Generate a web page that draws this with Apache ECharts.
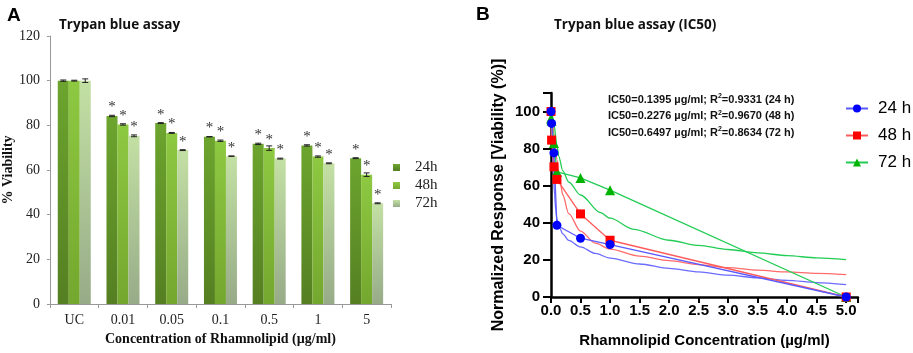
<!DOCTYPE html>
<html>
<head>
<meta charset="utf-8">
<script src="https://cdn.jsdelivr.net/npm/echarts@6/dist/echarts.min.js"></script>
<style>
  html, body { margin: 0; padding: 0; background: #fff; }
  #chart { width: 913px; height: 353px; }
</style>
</head>
<body>
<div id="chart"></div>
<script>
// Panel A: bar chart
const categories = ['UC', '0.01', '0.05', '0.1', '0.5', '1', '5'];
const via24 = [100, 84.2, 81, 74.9, 71.7, 71, 65.3];
const via48 = [100, 80.4, 76.6, 73.1, 69.8, 66, 57.9];
const via72 = [100, 75.3, 68.9, 66.2, 65.1, 63, 45.1];
const err24 = [0.3, 0.3, 0.2, 0.1, 0.3, 0.3, 0.2];
const err48 = [0.2, 0.3, 0.2, 0.3, 1.0, 0.3, 0.8];
const err72 = [0.8, 0.4, 0.2, 0.1, 0.2, 0.2, 0.2];
const stars24 = ['', '*', '*', '*', '*', '*', '*'];
const stars48 = ['', '*', '*', '*', '*', '*', '*'];
const stars72 = ['', '*', '*', '*', '*', '*', '*'];

// Panel B: IC50 plot
const concX = [0, 0.01, 0.05, 0.1, 0.5, 1, 5];
const resp24 = [100, 93.6, 77.7, 38.7, 31.7, 28.3, 0];
const resp48 = [100, 84.6, 70.2, 63.4, 44.8, 30.6, 0];
const resp72 = [96.2, 95, 83, 67.5, 64.2, 57.6, 0];
// fitted curves
const fit24 = [[0.004, 100], [0.02, 85], [0.04, 68], [0.06, 55], [0.08, 47], [0.1, 42], [0.15, 37], [0.2, 34], [0.3, 30.5], [0.5, 27], [0.75, 23.5], [1, 21], [1.5, 17.8], [2, 15.4], [2.5, 13.5], [3, 11.8], [3.5, 10.3], [4, 9], [4.5, 7.8], [5, 6.7]];
const fit48 = [[0.004, 100], [0.02, 96], [0.05, 88], [0.1, 74], [0.15, 63], [0.2, 55], [0.3, 45], [0.5, 35.5], [0.75, 29], [1, 25.8], [1.5, 22], [2, 19.6], [2.5, 17.5], [3, 15.8], [3.5, 14.5], [4, 13.5], [4.5, 12.7], [5, 12.1]];
const fit72 = [[0.004, 100], [0.02, 98], [0.05, 93], [0.1, 82], [0.13, 76], [0.2, 68], [0.3, 62], [0.5, 55], [0.84, 45.5], [1, 42.5], [1.4, 36.5], [2, 30.6], [2.5, 27.8], [3, 25.6], [3.5, 23.8], [4, 22.3], [4.5, 21.1], [5, 20.2]];
const xTicksB = [0, 0.5, 1, 1.5, 2, 2.5, 3, 3.5, 4, 4.5, 5];
const yTicksB = [0, 20, 40, 60, 80, 100];
const icLines = [
  ['IC50=0.1395 µg/ml; R', '2', '=0.9331 (24 h)'],
  ['IC50=0.2276 µg/ml; R', '2', '=0.9670 (48 h)'],
  ['IC50=0.6497 µg/ml; R', '2', '=0.8634 (72 h)']
];

const serif = '"Liberation Serif", "Times New Roman", serif';
const sans = '"Liberation Sans", Arial, sans-serif';
const titleFont = '"Open Sans", "Noto Sans", sans-serif';

function grad(top, bottom) {
  return new echarts.graphic.LinearGradient(0, 0, 0, 1, [
    {offset: 0, color: top},
    {offset: 1, color: bottom}
  ]);
}
const barColors = [grad('#6ca52e', '#557f22'), grad('#8ec942', '#74a72e'), grad('#c3e0a4', '#97ab88')];
const barWidth = 11;

function barSeries(name, vals, stars, color) {
  return {
    name: name,
    type: 'bar',
    xAxisIndex: 0,
    yAxisIndex: 0,
    barWidth: barWidth,
    barGap: '0%',
    itemStyle: {color: color},
    data: vals.map((v, i) => ({
      value: v,
      label: {
        show: stars[i] !== '',
        position: 'top',
        distance: 1,
        formatter: stars[i],
        fontFamily: serif,
        fontSize: 15,
        color: '#333'
      }
    }))
  };
}

function errSeries(vals, errs, offset) {
  return {
    type: 'custom',
    xAxisIndex: 0,
    yAxisIndex: 0,
    z: 5,
    silent: true,
    data: vals.map((v, i) => [i, v, errs[i]]),
    renderItem: function (params, api) {
      const ci = api.value(0), v = api.value(1), e = api.value(2);
      const hi = api.coord([ci, v + e]);
      const lo = api.coord([ci, v - e]);
      const x = hi[0] + offset;
      const st = {stroke: '#222', lineWidth: 1};
      return {
        type: 'group',
        children: [
          {type: 'line', shape: {x1: x, y1: hi[1], x2: x, y2: lo[1]}, style: st},
          {type: 'line', shape: {x1: x - 3, y1: hi[1], x2: x + 3, y2: hi[1]}, style: st},
          {type: 'line', shape: {x1: x - 3, y1: lo[1], x2: x + 3, y2: lo[1]}, style: st}
        ]
      };
    }
  };
}

function dataSeries(name, ys, symbol, size, mark, line) {
  return {
    name: name,
    type: 'line',
    xAxisIndex: 1,
    yAxisIndex: 1,
    symbol: symbol,
    symbolSize: size,
    clip: false,
    z: 4,
    itemStyle: {color: mark},
    lineStyle: {color: line, width: 1.3},
    data: concX.map((x, i) => [x, ys[i]])
  };
}

function fitSeries(pts, color) {
  return {
    type: 'line',
    xAxisIndex: 1,
    yAxisIndex: 1,
    showSymbol: false,
    smooth: 0.3,
    smoothMonotone: 'x',
    silent: true,
    z: 3,
    lineStyle: {color: color, width: 1.3},
    data: pts
  };
}

const chart = echarts.init(document.getElementById('chart'));

chart.setOption({
  animation: false,
  backgroundColor: '#fff',
  title: [
    {text: 'A', left: 2, top: 1, textStyle: {fontFamily: sans, fontSize: 19, fontWeight: 'bold', color: '#000'}},
    {text: 'Trypan blue assay', left: 54, top: 13, textStyle: {fontFamily: titleFont, fontSize: 13.5, fontWeight: 'bold', color: '#111'}},
    {text: 'B', left: 471, top: 0, textStyle: {fontFamily: sans, fontSize: 19, fontWeight: 'bold', color: '#000'}},
    {text: 'Trypan blue assay (IC50)', left: 549, top: 13, textStyle: {fontFamily: titleFont, fontSize: 13.5, fontWeight: 'bold', color: '#111'}}
  ],
  legend: [
    {
      data: ['24h', '48h', '72h'],
      orient: 'vertical',
      left: 388,
      top: 155,
      itemWidth: 7,
      itemHeight: 7,
      itemGap: 3,
      icon: 'rect',
      textStyle: {fontFamily: serif, fontSize: 15, color: '#222', padding: [0, 0, 0, 10]}
    },
    {
      data: ['24 h', '48 h', '72 h'],
      orient: 'vertical',
      left: 840,
      top: 95,
      itemWidth: 22,
      itemHeight: 10,
      itemGap: 10,
      textStyle: {fontFamily: sans, fontSize: 17, color: '#000', padding: [0, 0, 0, 5]}
    }
  ],
  grid: [
    {left: 45, top: 36, width: 346, height: 268},
    {left: 551, top: 93, width: 307, height: 204}
  ],
  xAxis: [
    {
      type: 'category',
      gridIndex: 0,
      data: categories,
      axisLine: {lineStyle: {color: '#999', width: 1}},
      axisTick: {show: true, length: 4, lineStyle: {color: '#999'}},
      axisLabel: {fontFamily: serif, fontSize: 14, color: '#222', margin: 9},
      name: 'Concentration of Rhamnolipid (µg/ml)',
      nameLocation: 'middle',
      nameGap: 27,
      nameTextStyle: {fontFamily: serif, fontSize: 14, fontWeight: 'bold', color: '#111'}
    },
    {
      type: 'value',
      gridIndex: 1,
      min: 0,
      max: 5.2,
      interval: 0.5,
      splitLine: {show: false},
      axisLine: {onZero: false, lineStyle: {color: '#000', width: 2.5}},
      axisTick: {show: true, length: 6, lineStyle: {color: '#000', width: 2}},
      axisLabel: {customValues: xTicksB, fontFamily: sans, fontSize: 15, fontWeight: 'bold', color: '#000', margin: 6, formatter: v => v.toFixed(1)},
      name: 'Rhamnolipid Concentration (µg/ml)',
      nameLocation: 'middle',
      nameGap: 36,
      nameTextStyle: {fontFamily: sans, fontSize: 15, fontWeight: 'bold', color: '#000'}
    }
  ],
  yAxis: [
    {
      type: 'value',
      gridIndex: 0,
      min: 0,
      max: 120,
      interval: 20,
      splitLine: {show: false},
      axisLine: {show: true, lineStyle: {color: '#999', width: 1}},
      axisTick: {show: true, length: 3, lineStyle: {color: '#999'}},
      axisLabel: {fontFamily: serif, fontSize: 14, color: '#222', margin: 10},
      name: '% Viability',
      nameLocation: 'middle',
      nameGap: 31,
      nameTextStyle: {fontFamily: serif, fontSize: 14, fontWeight: 'bold', color: '#111'}
    },
    {
      type: 'value',
      gridIndex: 1,
      min: 0,
      max: 110,
      interval: 20,
      splitLine: {show: false},
      axisLine: {onZero: false, lineStyle: {color: '#000', width: 2.5}},
      axisTick: {show: true, length: 8, lineStyle: {color: '#000', width: 2}},
      axisLabel: {customValues: yTicksB, fontFamily: sans, fontSize: 15, fontWeight: 'bold', color: '#000', margin: 11},
      name: 'Normalized Response [Viability (%)]',
      nameLocation: 'middle',
      nameGap: 44,
      nameTextStyle: {fontFamily: sans, fontSize: 16, fontWeight: 'bold', color: '#000'}
    }
  ],
  graphic: icLines.map((parts, i) => ({
    type: 'text',
    left: 608,
    top: 93 + i * 16.5,
    style: {
      text: '{a|' + parts[0] + '}{s|' + parts[1] + '}{a|' + parts[2] + '}',
      rich: {
        a: {fontFamily: sans, fontSize: 11, fontWeight: 'bold', fill: '#111', color: '#111'},
        s: {fontFamily: sans, fontSize: 7, fontWeight: 'bold', fill: '#111', color: '#111', verticalAlign: 'top', padding: [0, 0, 6, 0]}
      }
    }
  })),
  series: [
    barSeries('24h', via24, stars24, barColors[0]),
    barSeries('48h', via48, stars48, barColors[1]),
    barSeries('72h', via72, stars72, barColors[2]),
    errSeries(via24, err24, -barWidth),
    errSeries(via48, err48, 0),
    errSeries(via72, err72, barWidth),
    fitSeries(fit24, '#6b6bff'),
    fitSeries(fit48, '#ff6b6b'),
    fitSeries(fit72, '#22cc55'),
    dataSeries('72 h', resp72, 'triangle', 10, '#00b300', '#22cc55'),
    dataSeries('48 h', resp48, 'rect', 9, '#ff0000', '#ff5c5c'),
    dataSeries('24 h', resp24, 'circle', 9, '#0000ff', '#5a5aff')
  ]
});
</script>
</body>
</html>
